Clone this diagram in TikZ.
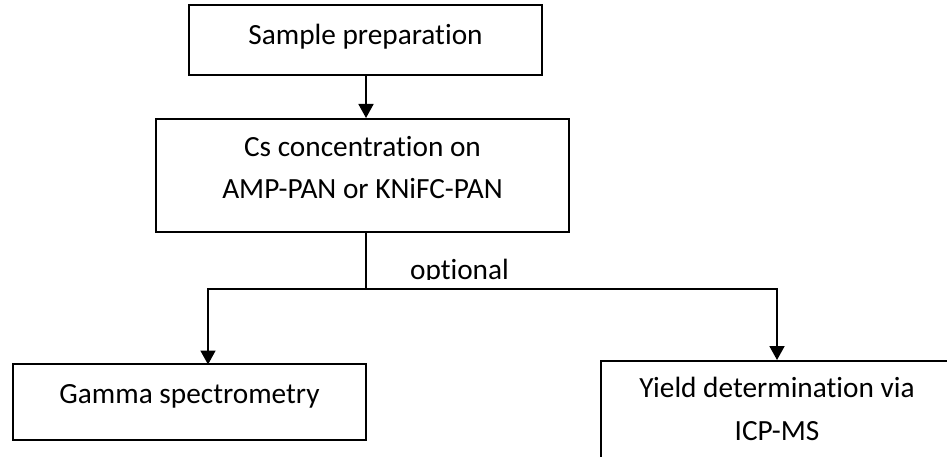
\documentclass[tikz,border=0pt]{standalone}
\usepackage{fontspec}
\setmainfont{Carlito}[Ligatures={NoCommon}]
\usetikzlibrary{arrows.meta}
\tikzset{
  boxnode/.style={draw=black, line width=2pt, fill=white, inner sep=0pt},
  txt/.style={anchor=base, inner sep=0pt, font=\fontsize{29.3}{42}\selectfont},
  link/.style={line width=1.8pt, line join=miter},
  tipped/.style={link, {Triangle[width=15pt,length=14pt]}-{Triangle[width=15pt,length=14pt]}},
  onetip/.style={link, -{Triangle[width=15pt,length=14pt]}}
}
\begin{document}
\begin{tikzpicture}[x=1pt, y=-1pt]
\useasboundingbox (0,0) rectangle (947,457);
\fill[white] (0,0) rectangle (947,457);
\clip (0,0) rectangle (947,457);

% boxes
\node[boxnode, minimum width=353pt, minimum height=70pt] (prep) at (365.5,40) {};
\node[boxnode, minimum width=413pt, minimum height=113pt] (conc) at (362.5,175.5) {};
\node[boxnode, minimum width=353pt, minimum height=76pt] (gamma) at (189.5,402) {};
\node[boxnode, minimum width=352pt, minimum height=140pt] (yield) at (777,431) {};

% texts
\node[txt] (tprep) at (365.5,45) {Sample preparation};
\node[txt] (tconc1) at (362.5,157) {Cs concentration on};
\node[txt] (tconc2) at (362.5,199) {AMP-PAN or KNiFC-PAN};
\node[txt] (tgamma) at (189.5,403) {Gamma spectrometry};
\node[txt] (tyield1) at (777,397) {Yield determination via};
\node[txt] (tyield2) at (777,440) {ICP-MS};

\begin{scope}
  \clip (380,240) rectangle (540,279.5);
  \node[txt] (topt) at (459.5,279) {optional};
\end{scope}

% connectors
\coordinate (top) at (366,75);
\coordinate (split) at (366,289);
\coordinate (jl) at (208,289);
\coordinate (jr) at (777,289);

\draw[onetip] (top) -- (top |- conc.north);
\draw[link] (top |- conc.south) -- (split);
\draw[tipped] ([yshift=-1.5pt]jl |- gamma.north) -- (jl) -- (jr) -- (jr |- yield.north);
\end{tikzpicture}
\end{document}
